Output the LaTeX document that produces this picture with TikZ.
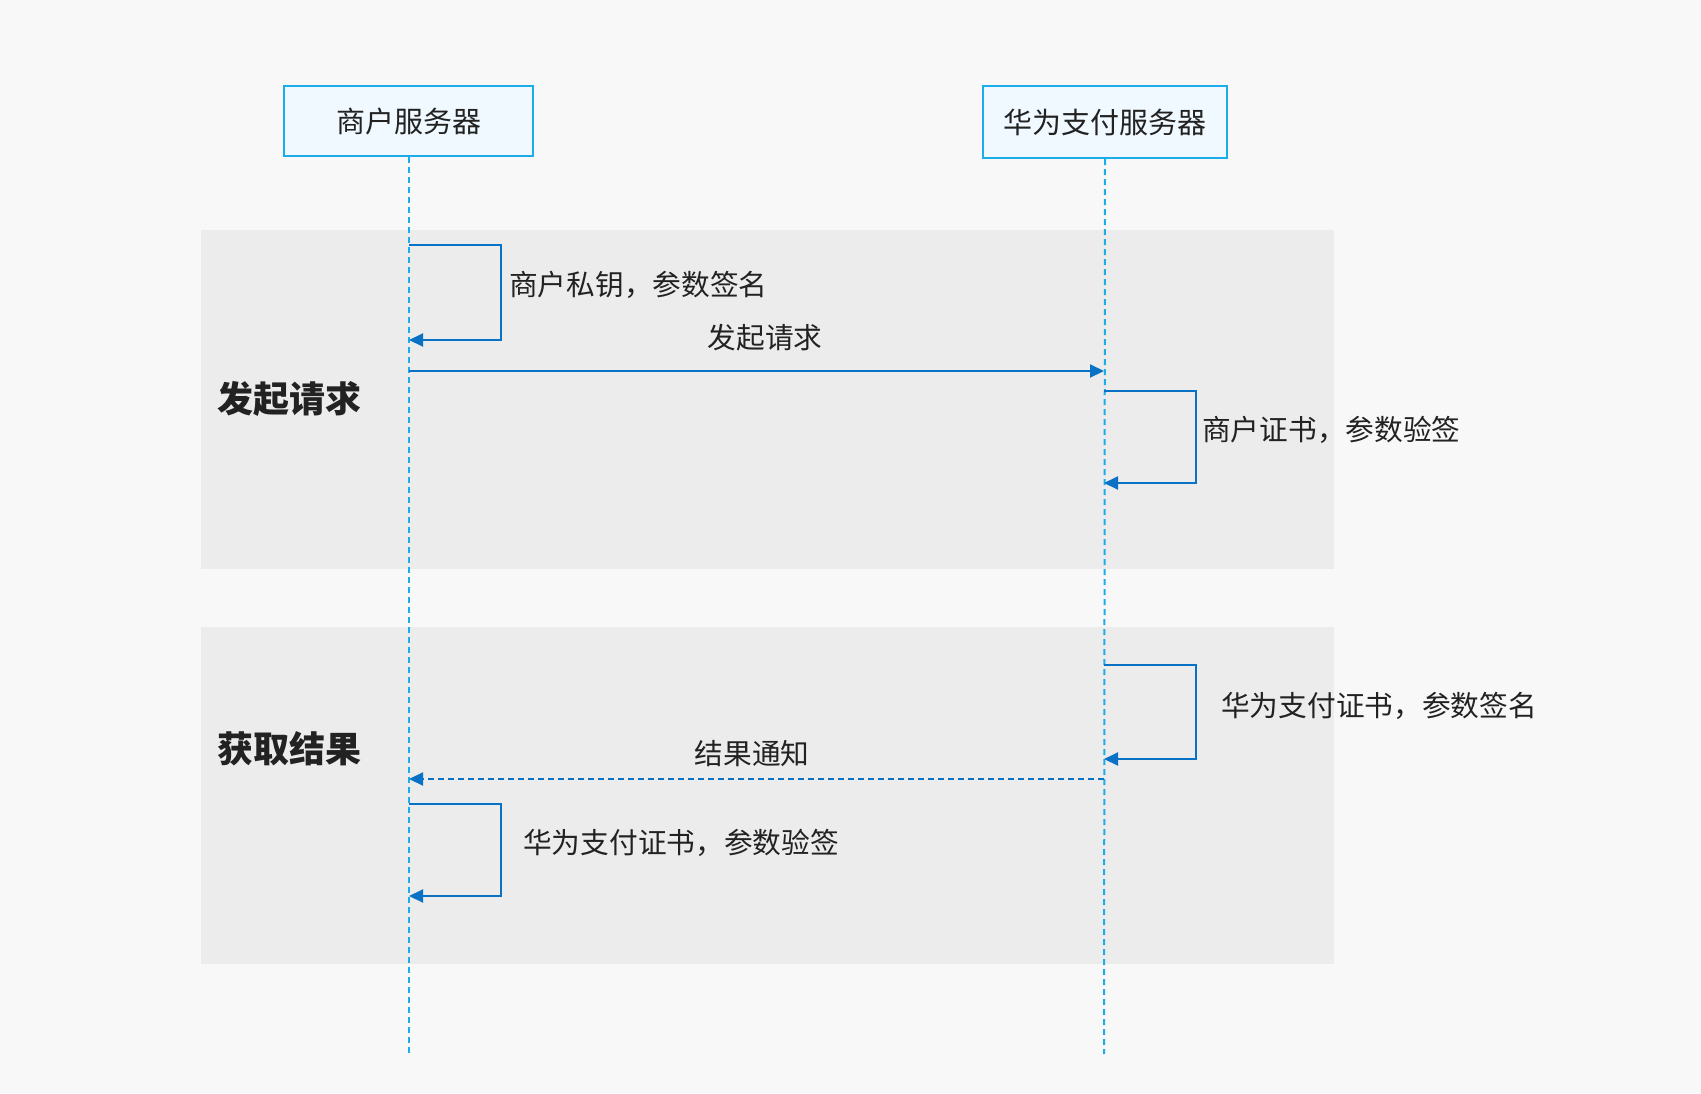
\documentclass[tikz,border=0pt]{standalone}
\usepackage{fontspec}
\setmainfont{Noto Sans CJK SC}
\usetikzlibrary{arrows.meta}
\definecolor{bgc}{HTML}{F8F8F8}
\definecolor{bandc}{HTML}{ECECEC}
\definecolor{boxfill}{HTML}{F0F9FF}
\definecolor{boxline}{HTML}{1AADEA}
\definecolor{arrc}{HTML}{0A72C4}
\definecolor{txtc}{HTML}{222222}
\tikzset{
  actor/.style={draw=boxline, line width=2pt, fill=boxfill, inner sep=0pt, font=\fontsize{29}{32}\selectfont, text=txtc},
  lifeline/.style={draw=boxline, line width=2pt, dash pattern=on 6pt off 4pt},
  msg/.style={draw=arrc, line width=2pt, -{Triangle[length=14pt,width=13pt]}},
  dmsg/.style={msg, dash pattern=on 6pt off 4pt},
  lbl/.style={font=\fontsize{28.7}{32}\selectfont, text=txtc, inner sep=0pt},
  phase/.style={font=\bfseries\fontsize{36}{40}\selectfont, text=txtc, inner sep=0pt, anchor=west},
  band/.style={fill=bandc, draw=none}
}
\begin{document}
\begin{tikzpicture}[x=1pt,y=-1pt]
\fill[bgc] (0,0) rectangle (1701,1093);
\useasboundingbox (0,0) rectangle (1701,1093);
\fill[band] (201,230) rectangle (1334,569);
\fill[band] (201,627) rectangle (1334,964);
% actors
\node[actor, minimum width=249pt, minimum height=70pt] (m) at (408.5,121) {商户服务器};
\node[actor, minimum width=244pt, minimum height=72pt] (h) at (1105,122) {华为支付服务器};
\coordinate (mend) at (408.5,1054);
\coordinate (hend) at (1104,1054);
\draw[lifeline] (m.south) -- (mend);
\draw[lifeline] (h.south) -- (hend);
% phase labels
\node[phase] (p1) at (217,399) {发起请求};
\node[phase] (p2) at (217,749) {获取结果};
% self loop 1
\coordinate (a1) at (409,245);
\coordinate (a2) at (409,340);
\draw[msg] (a1) -- (501,245) -- (501,340) -- (a2);
\node[lbl, anchor=west] (l1) at (509,285) {商户私钥，参数签名};
% request
\coordinate (r1) at (409,371);
\coordinate (r2) at (1104,371);
\draw[msg] (r1) -- (r2);
\node[lbl] (l2) at (765,338) {发起请求};
% self loop 2
\coordinate (b1) at (1104,391);
\coordinate (b2) at (1104,483);
\draw[msg] (b1) -- (1196,391) -- (1196,483) -- (b2);
\node[lbl, anchor=west] (l3) at (1202,430) {商户证书，参数验签};
% self loop 3
\coordinate (c1) at (1104,665);
\coordinate (c2) at (1104,759);
\draw[msg] (c1) -- (1196,665) -- (1196,759) -- (c2);
\node[lbl, anchor=west] (l4) at (1221,706) {华为支付证书，参数签名};
% result notify
\coordinate (n1) at (1104,779);
\coordinate (n2) at (409,779);
\draw[dmsg] (n1) -- (n2);
\node[lbl] (l5) at (752,754) {结果通知};
% self loop 4
\coordinate (d1) at (409,804);
\coordinate (d2) at (409,896);
\draw[msg] (d1) -- (501,804) -- (501,896) -- (d2);
\node[lbl, anchor=west] (l6) at (523,843) {华为支付证书，参数验签};
\end{tikzpicture}
\end{document}
